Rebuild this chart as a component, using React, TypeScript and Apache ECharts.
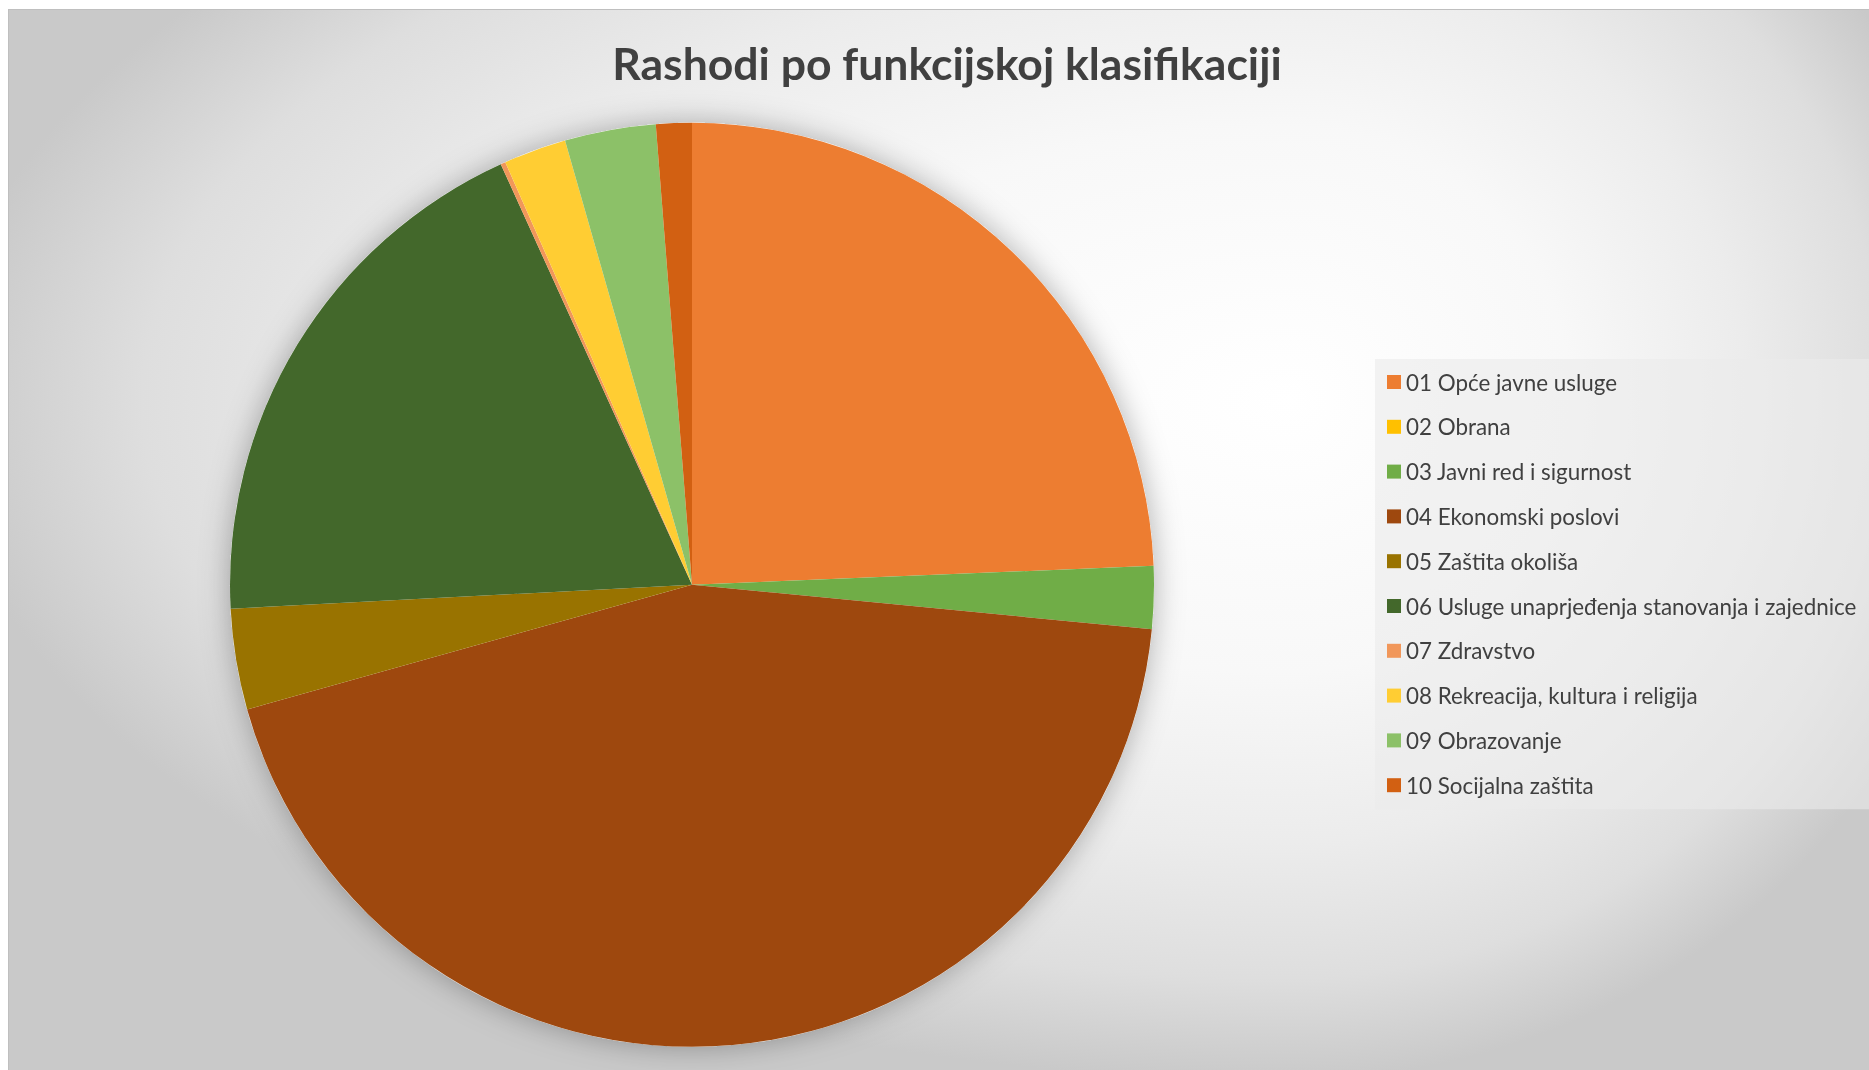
import React, { useEffect, useRef } from "react";
import * as echarts from "echarts";

const titleText = "Rashodi po funkcijskoj klasifikaciji";

const categories = [
  "01 Opće javne usluge",
  "02 Obrana",
  "03 Javni red i sigurnost",
  "04 Ekonomski poslovi",
  "05 Zaštita okoliša",
  "06 Usluge unaprjeđenja stanovanja i zajednice",
  "07 Zdravstvo",
  "08 Rekreacija, kultura i religija",
  "09 Obrazovanje",
  "10 Socijalna zaštita",
];

const values = [24.34, 0, 2.19, 44.11, 3.52, 19.03, 0.17, 2.19, 3.18, 1.25];

const colors = [
  "#ED7D31",
  "#FFC000",
  "#70AD47",
  "#9E480E",
  "#997300",
  "#43682B",
  "#F1975A",
  "#FFCD33",
  "#8CC168",
  "#D26012",
];

const FONT = "Lato, 'Open Sans', sans-serif";

const stops = "#ffffff 0%, #f8f8f8 40%, #ececec 65%, #dedede 85%, #c9c9c9 100%";

export default function App() {
  const ref = useRef<HTMLDivElement>(null);

  useEffect(() => {
    if (!ref.current) return;
    const chart = echarts.init(ref.current, null, { renderer: "svg" });
    const data = categories.map((name, i) => ({
      name,
      value: values[i],
      itemStyle: { color: colors[i] },
    }));
    chart.setOption({
      animation: false,
      backgroundColor: "transparent",
      title: {
        text: titleText,
        left: 938,
        top: 30,
        padding: 0,
        textAlign: "center",
        textStyle: {
          fontFamily: FONT,
          fontSize: 44.5,
          lineHeight: 44,
          fontWeight: "bold",
          color: "#404040",
        },
      },
      legend: {
        data: categories,
        orient: "vertical",
        left: 1366,
        top: 349,
        icon: "rect",
        itemWidth: 14,
        itemHeight: 14,
        itemGap: 22.8,
        padding: [12, 40, 13, 12],
        backgroundColor: "rgba(235,235,235,0.6)",
        selectedMode: false,
        textStyle: {
          fontFamily: FONT,
          fontSize: 22.4,
          lineHeight: 21,
          color: "#404040",
        },
      },
      series: [
        {
          type: "pie",
          name: "shadow",
          silent: true,
          z: 1,
          center: [683, 574.8],
          radius: [0, 462],
          label: { show: false },
          labelLine: { show: false },
          emphasis: { disabled: true },
          itemStyle: {
            color: "#ffffff",
            shadowBlur: 30,
            shadowColor: "rgba(0,0,0,0.3)",
          },
          data: [{ name: "__shadow", value: 1 }],
        },
        {
          type: "pie",
          name: "Rashodi",
          z: 2,
          center: [683, 574.8],
          radius: [0, 462],
          startAngle: 90,
          clockwise: true,
          label: { show: false },
          labelLine: { show: false },
          emphasis: { disabled: true },
          itemStyle: { borderWidth: 0 },
          data,
        },
      ],
    });
    return () => chart.dispose();
  }, []);

  return (
    <div
      ref={ref}
      style={{
        position: "fixed",
        left: 8,
        top: 9,
        width: 1860,
        height: 1060,
        borderTop: "1px solid #bfbfbf",
        borderLeft: "1px solid #bfbfbf",
        backgroundImage: `radial-gradient(1350px 680px at 1281px 390px, ${stops}), radial-gradient(700px 680px at 0px 390px, ${stops})`,
        backgroundSize: "1281px 100%, 579px 100%",
        backgroundPosition: "0px 0px, 1281px 0px",
        backgroundRepeat: "no-repeat",
      }}
    />
  );
}
